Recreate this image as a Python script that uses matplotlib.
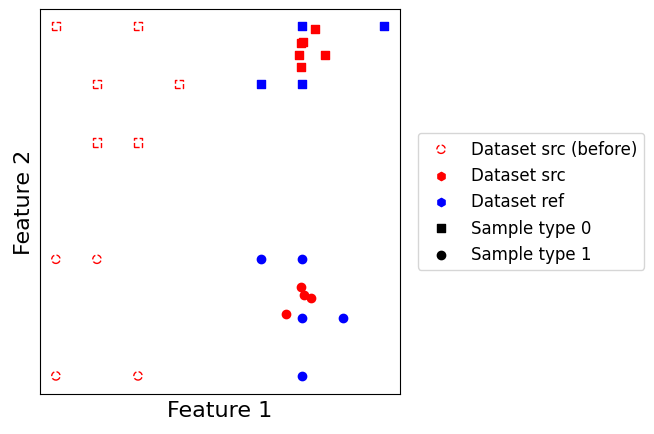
import matplotlib
matplotlib.use('agg')
import matplotlib.pyplot as plt

# source before transport
src_sq_x = [0, 2, 1, 3, 1, 2]
src_sq_y = [6, 6, 5, 5, 4, 4]
src_ci_x = [0, 1, 0, 2]
src_ci_y = [2, 2, 0, 0]
# reference
ref_sq_x = [6, 8, 5, 6]
ref_sq_y = [6, 6, 5, 5]
ref_ci_x = [5, 6, 6, 7, 6]
ref_ci_y = [2, 2, 1, 1, 0]
# source after
new_sq_x = [6.32, 5.98, 6.02, 5.93, 6.56, 5.98]
new_sq_y = [5.95, 5.71, 5.73, 5.5, 5.5, 5.3]
new_ci_x = [5.98, 6.05, 6.22, 5.61]
new_ci_y = [1.52, 1.38, 1.33, 1.06]

fig = plt.figure(figsize=[6.54, 4.35], dpi=100)
ax = fig.add_axes([0.061, 0.092, 0.551, 0.885])

ax.scatter(src_sq_x, src_sq_y, marker='s', facecolors='none', edgecolors='r', linestyle='--')
ax.scatter(src_ci_x, src_ci_y, marker='o', facecolors='none', edgecolors='r', linestyle='--')
ax.scatter(ref_sq_x, ref_sq_y, marker='s', c='b')
ax.scatter(ref_ci_x, ref_ci_y, marker='o', c='b')
ax.scatter(new_sq_x, new_sq_y, marker='s', c='r')
ax.scatter(new_ci_x, new_ci_y, marker='o', c='r')

# legend-only handles
h = [
    ax.scatter([], [], marker='o', facecolors='none', edgecolors='r', linestyle='--'),
    ax.scatter([], [], marker='h', c='r'),
    ax.scatter([], [], marker='h', c='b'),
    ax.scatter([], [], marker='s', c='k'),
    ax.scatter([], [], marker='o', c='k'),
]

ax.set_xlim(-0.39, 8.39)
ax.set_ylim(-0.31, 6.29)
ax.set_xticks([])
ax.set_yticks([])
ax.set_xlabel("Feature 1", fontsize=16)
ax.set_ylabel("Feature 2", fontsize=16)

labels = ["Dataset src (before)", "Dataset src", "Dataset ref", "Sample type 0", "Sample type 1"]
fig.legend(h, labels, loc='center left', bbox_to_anchor=(0.626, 0.535), fontsize=12)

plt.savefig("out.png")
